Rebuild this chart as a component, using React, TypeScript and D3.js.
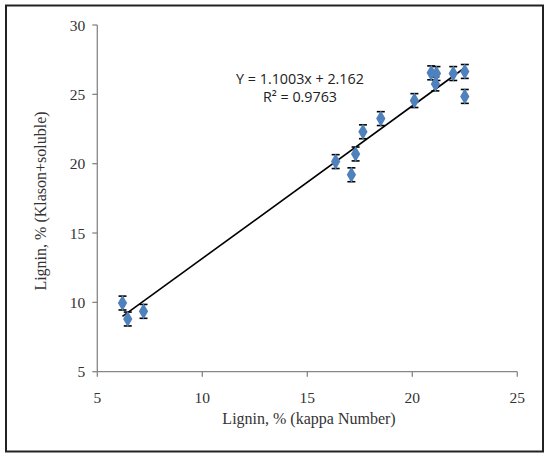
import React from "react";
import * as d3 from "d3";

const xValues = [6.2, 6.45, 7.2, 16.35, 17.1, 17.3, 17.65, 18.5, 20.1, 20.9, 21.15, 21.1, 21.95, 22.5, 22.5];
const yValues = [9.95, 8.8, 9.35, 20.15, 19.2, 20.7, 22.3, 23.25, 24.55, 26.55, 26.5, 25.75, 26.5, 26.65, 24.85];
const yErrors = [0.5, 0.5, 0.5, 0.5, 0.5, 0.5, 0.5, 0.5, 0.5, 0.5, 0.5, 0.5, 0.5, 0.5, 0.5];
const xTicks = [5, 10, 15, 20, 25];
const yTicks = [5, 10, 15, 20, 25, 30];
const slope = 1.1003;
const intercept = 2.162;
const equationText = "Y = 1.1003x + 2.162";
const r2Text = "R² = 0.9763";
const xTitle = "Lignin, % (kappa Number)";
const yTitle = "Lignin, % (Klason+soluble)";

export default function App() {
  const W = 550, H = 457;
  const x = d3.scaleLinear().domain([5, 25]).range([97.3, 517.3]);
  const y = d3.scaleLinear().domain([5, 30]).range([371.7, 25]);
  const axisColor = "#868686";
  const blue = "#4F81BD";
  const serif = "'Liberation Serif', 'DejaVu Serif', serif";
  const sans = "'Open Sans', 'Noto Sans', sans-serif";
  const xMin = d3.min(xValues) as number;
  const xMax = d3.max(xValues) as number;
  const line = d3.line<number>().x((v) => x(v)).y((v) => y(slope * v + intercept));
  const diamond = d3.symbol().type(d3.symbolDiamond).size(75)() as string;
  return (
    <svg width={W} height={H} style={{ position: "absolute", left: 0, top: 0, background: "#fff" }}>
      <rect x={6} y={5.5} width={537} height={446} fill="#fff" stroke="#222" strokeWidth={2} />
      <line x1={x(5)} x2={x(25)} y1={y(5)} y2={y(5)} stroke={axisColor} strokeWidth={1.3} />
      <line x1={x(5)} x2={x(5)} y1={y(5)} y2={y(30)} stroke={axisColor} strokeWidth={1.3} />
      {xTicks.map((t) => (
        <g key={"xt" + t}>
          <line x1={x(t)} x2={x(t)} y1={y(5)} y2={y(5) + 5} stroke={axisColor} strokeWidth={1.3} />
          <text x={x(t)} y={y(5) + 31} textAnchor="middle" fontFamily={serif} fontSize={15.5} fill="#333">{t}</text>
        </g>
      ))}
      {yTicks.map((t) => (
        <g key={"yt" + t}>
          <line x1={x(5) - 5} x2={x(5)} y1={y(t)} y2={y(t)} stroke={axisColor} strokeWidth={1.3} />
          <text x={x(5) - 12} y={y(t) + 5.5} textAnchor="end" fontFamily={serif} fontSize={15.5} fill="#333">{t}</text>
        </g>
      ))}
      <text x={309} y={424} textAnchor="middle" fontFamily={serif} fontSize={16} fill="#333">{xTitle}</text>
      <text transform={`translate(46,201) rotate(-90)`} textAnchor="middle" fontFamily={serif} fontSize={16} fill="#333">{yTitle}</text>
      <path d={line([xMin, xMax]) as string} fill="none" stroke="#000" strokeWidth={1.6} />
      {xValues.map((xv, i) => {
        const cx = x(xv);
        const y1 = y(yValues[i] - yErrors[i]);
        const y2 = y(yValues[i] + yErrors[i]);
        return (
          <g key={"e" + i} stroke="#000" strokeWidth={1.6}>
            <line x1={cx} x2={cx} y1={y1} y2={y2} />
            <line x1={cx - 4} x2={cx + 4} y1={y1} y2={y1} />
            <line x1={cx - 4} x2={cx + 4} y1={y2} y2={y2} />
          </g>
        );
      })}
      {xValues.map((xv, i) => (
        <path key={"p" + i} d={diamond} transform={`translate(${x(xv)},${y(yValues[i])})`} fill={blue} />
      ))}
      <text x={300} y={84} textAnchor="middle" fontFamily={sans} fontSize={14.3} fill="#222">{equationText}</text>
      <text x={300} y={102} textAnchor="middle" fontFamily={sans} fontSize={14.3} fill="#222">{r2Text}</text>
    </svg>
  );
}
